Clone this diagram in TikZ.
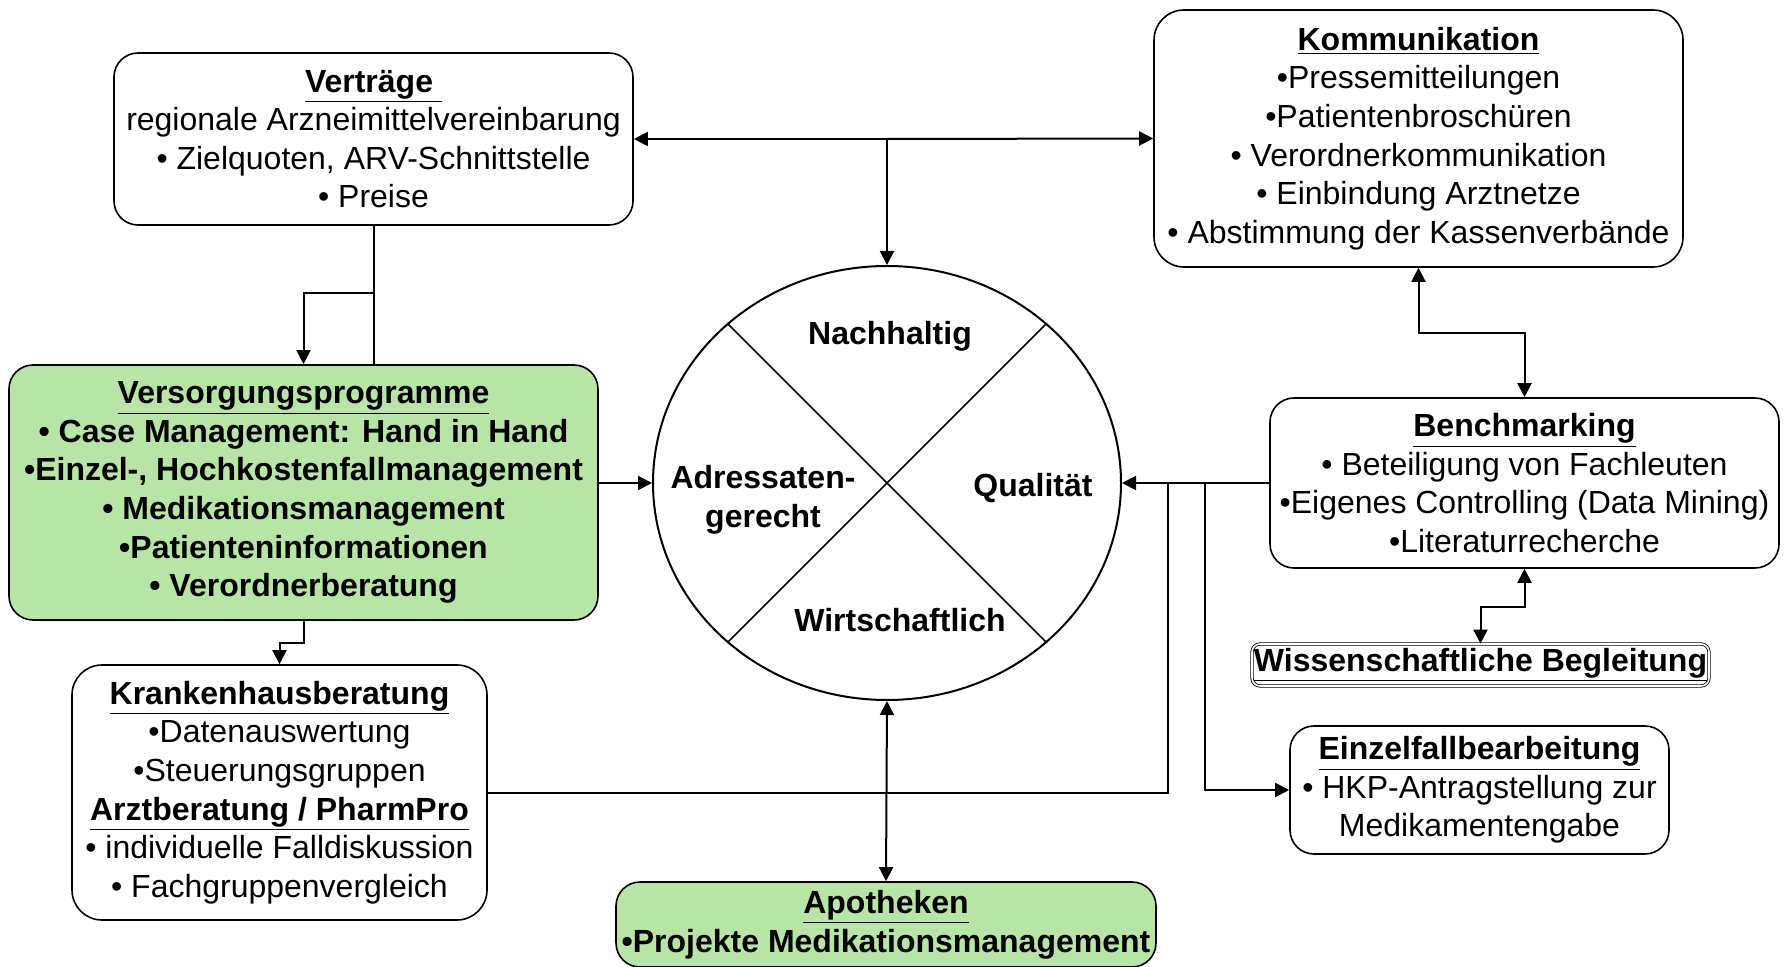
\documentclass[tikz,border=0pt]{standalone}
\usepackage{fontspec}
\setmainfont{Liberation Sans}
\usetikzlibrary{arrows.meta,shapes.geometric}
\definecolor{progGreen}{RGB}{184,228,168}
\newcommand{\ttl}[1]{\textbf{\underline{#1}}}

\begin{document}
\begin{tikzpicture}[x=0.5pt,y=-0.5pt,
  box/.style={draw,line width=0.8pt,rounded corners=12pt,align=center,inner sep=0pt,
    font=\fontsize{16}{19.3}\selectfont},
  greenbox/.style={box,fill=progGreen,font=\fontsize{16}{19.3}\selectfont\bfseries},
  lbl/.style={font=\fontsize{16}{19.3}\selectfont\bfseries,align=center},
  conn/.style={line width=1pt},
  arr/.style={conn,-{Triangle[length=7pt,width=7pt]}},
  dblarr/.style={conn,{Triangle[length=7pt,width=7pt]}-{Triangle[length=7pt,width=7pt]}}]

\useasboundingbox (0,0) rectangle (1788,967);

% boxes
\node[box,minimum width=259.5pt,minimum height=86pt] (vertraege) at (373.5,139)
  {\ttl{Verträge\ }\\regionale Arzneimittelvereinbarung\\• Zielquoten, ARV-Schnittstelle\\• Preise};
\node[box,rounded corners=15pt,minimum width=264.5pt,minimum height=128.5pt] (komm) at (1418.5,138.5)
  {\ttl{Kommunikation}\\•Pressemitteilungen\\•Patientenbroschüren\\• Verordnerkommunikation\\• Einbindung Arztnetze\\• Abstimmung der Kassenverbände};
\node[greenbox,minimum width=294.5pt,minimum height=127.5pt] (versorg) at (303.5,492.5)
  {\underline{Versorgungsprogramme}\\• Case Management: Hand in Hand\\•Einzel-, Hochkostenfallmanagement\\• Medikationsmanagement\\•Patienteninformationen\\• Verordnerberatung};
\node[box,minimum width=254.5pt,minimum height=85pt] (bench) at (1524.5,483)
  {\ttl{Benchmarking}\\• Beteiligung von Fachleuten\\•Eigenes Controlling (Data Mining)\\•Literaturrecherche};
\node[box,double,double distance=0.8pt,line width=0.4pt,rounded corners=4pt,
  minimum width=228.5pt,minimum height=21pt] (wiss) at (1480.5,665)
  {\ttl{Wissenschaftliche Begleitung}};
\node[box,minimum width=189.5pt,minimum height=64pt] (einzel) at (1479.5,790)
  {\ttl{Einzelfallbearbeitung}\\• HKP-Antragstellung zur\\Medikamentengabe};
\node[box,rounded corners=15pt,minimum width=207.5pt,minimum height=127.5pt] (kh) at (279.5,792.5)
  {\ttl{Krankenhausberatung}\\•Datenauswertung\\•Steuerungsgruppen\\\ttl{Arztberatung / PharmPro}\\• individuelle Falldiskussion\\• Fachgruppenvergleich};
\node[greenbox,minimum width=270pt,minimum height=42.5pt] (apo) at (886,924.5)
  {\underline{Apotheken}\\•Projekte Medikationsmanagement};

% circle
\node[draw,ellipse,line width=1pt,minimum width=234pt,minimum height=217pt,inner sep=0pt] (circ) at (887,483) {};
\draw[line width=0.8pt] (circ.135) -- (circ.-45);
\draw[line width=0.8pt] (circ.45) -- (circ.-135);
\node[lbl] (nach) at (890,336) {Nachhaltig};
\node[lbl] (adr) at (763,500) {Adressaten-\\gerecht};
\node[lbl] (qual) at (1033,488) {Qualität};
\node[lbl] (wirt) at (900,620) {Wirtschaftlich};

% connectors
\coordinate (top) at (887,139);
\coordinate (vbranch) at (373.5,293);
\coordinate (qjoin) at (1168,483);
\coordinate (esplit) at (1205,483);
\draw[arr] (top) -- (vertraege.east);
\draw[arr] (top) -- (komm.west);
\draw[arr] (top) -- (circ.north);
\draw[conn] (vertraege.south) -- (vertraege.south |- versorg.north);
\draw[arr] (vbranch) -| (versorg.north);
\draw[arr] (versorg.east |- circ.west) -- (circ.west);
\draw[arr] (versorg.south) -- ++(0,22) -| (kh.north);
\draw[arr] (bench.west) -- (circ.east);
\draw[conn] (kh.east) -| (qjoin);
\draw[arr] (esplit) |- (einzel.west);
\draw[dblarr] (circ.south) -- (apo.north);
\draw[dblarr] (komm.south) -- ++(0,65) -| (bench.north);
\draw[dblarr] (bench.south) -- ++(0,38) -| (wiss.north);
\end{tikzpicture}
\end{document}
